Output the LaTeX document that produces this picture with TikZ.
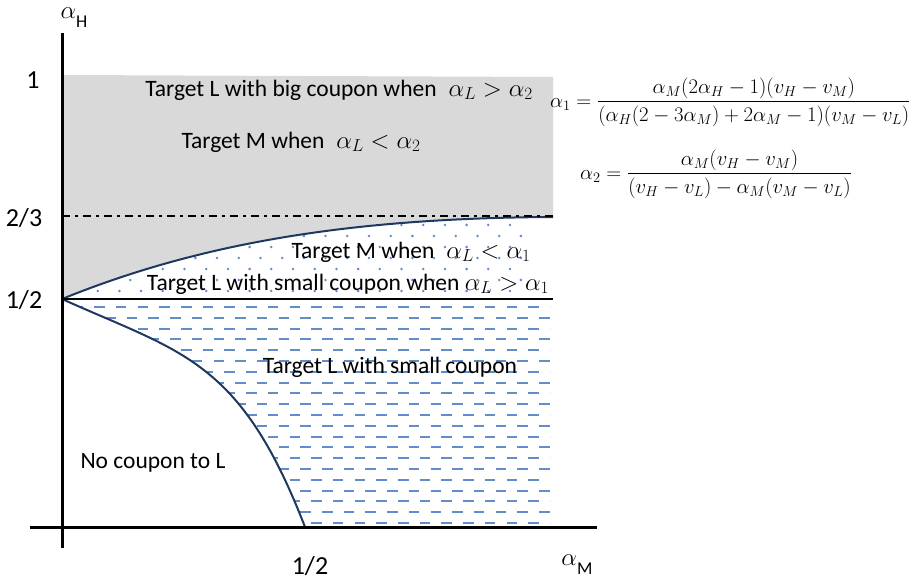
\documentclass[tikz,border=0pt]{standalone}
\usepackage{amsmath}
\usepackage{fontspec}
\setmainfont{Carlito}
\usetikzlibrary{calc}

\definecolor{regiongray}{RGB}{217,217,217}
\definecolor{patblue}{RGB}{99,141,201}
\definecolor{edgeblue}{RGB}{31,56,96}

\begin{document}
\begin{tikzpicture}[
    x=1pt, y=-1pt,
    every node/.style={inner sep=0pt},
    regionlabel/.style={font=\fontsize{23.5}{27}\selectfont},
    ticklabel/.style={font=\fontsize{26}{30}\selectfont},
    formula/.style={font=\fontsize{21}{25}\selectfont, anchor=west},
    axisline/.style={line width=3pt},
    boundary/.style={line width=2pt, draw=edgeblue},
    dashmark/.style={draw=patblue, line width=2pt},
    dotmark/.style={fill=patblue}
]
\useasboundingbox (0,0) rectangle (924,586);

% key points
\coordinate (half) at (62,299);
\coordinate (twothird) at (62,216);
\coordinate (mhalf) at (305,527);
\coordinate (cornerR) at (553,217);

% ============ GRAY REGION ============
\fill[regiongray] (62,75) -- (553,77) -- (cornerR) .. controls (350,218) and (200,243) .. (half) -- cycle;

% ============ DOTTED REGION ============
\begin{scope}
  \clip (0,0) rectangle (550,600);
  \clip (half) .. controls (200,243) and (350,218) .. (cornerR) -- (553,299) -- cycle;
  \foreach \r in {0,...,6}{
    \foreach \c in {0,...,23}{
      \fill[dotmark] ({510-21.7*\c+10.85*mod(\r,2)},{225+11*\r}) circle (1.4);
    }
  }
\end{scope}

% ============ DASHED REGION ============
\begin{scope}
  \clip (0,0) rectangle (550,600);
  \clip (half) .. controls (182,353) and (240,359) .. (mhalf) -- (553,527) -- (553,299) -- cycle;
  \foreach \r in {0,...,20}{
    \foreach \c in {-17,...,7}{
      \draw[dashmark] ({398+21.7*\c+10.85*mod(\r,2)},{307+10.8*\r}) -- ++(10.5,0);
    }
  }
\end{scope}

% ============ BOUNDARIES ============
\draw[boundary] (half) .. controls (200,243) and (350,218) .. (cornerR);
\draw[boundary] (half) .. controls (182,353) and (240,359) .. (mhalf);
\draw[line width=1.2pt] (half) -- (553,299);
\draw[line width=2pt, dash pattern=on 8pt off 5pt on 3pt off 5pt] (twothird) -- (553,216);

% ============ AXES ============
\draw[axisline] (62,33) -- (62,548);
\draw[axisline] (30,527) -- (597,527);

\node (ah) at (74,18) {\fontsize{34}{34}\selectfont$\alpha$\fontsize{18}{18}\selectfont\raisebox{-9pt}{H}};
\node (am) at (577,565) {\fontsize{34}{34}\selectfont$\alpha$\fontsize{18}{18}\selectfont\raisebox{-9pt}{M}};

\node[ticklabel] (one) at (33,80) {1};
\node[ticklabel] (twothirdlbl) at (24,218) {2/3};
\node[ticklabel] (halflbl) at (24,300) {1/2};
\node[ticklabel] (mhalflbl) at (310,566) {1/2};

% ============ REGION LABELS ============
\node[regionlabel] (bigL) at (339,90) {Target L with big coupon when \;$\alpha_L>\alpha_2$};
\node[regionlabel] (topM) at (301,142) {Target M when \;$\alpha_L<\alpha_2$};
\node[regionlabel] (midM) at (411,252) {Target M when \;$\alpha_L<\alpha_1$};
\node[regionlabel] (smallLwhen) at (348,284) {Target L with small coupon when $\alpha_L>\alpha_1$};
\node[regionlabel] (smallL) at (390,367) {Target L with small coupon};
\node[regionlabel] (noL) at (153,463) {No coupon to L};

% ============ FORMULAS ============
\node[formula] (alphaone) at (550,102) {$\alpha_1=\dfrac{\alpha_M(2\alpha_H-1)(v_H-v_M)}{(\alpha_H(2-3\alpha_M)+2\alpha_M-1)(v_M-v_L)}$};
\node[formula] (alphatwo) at (580,174) {$\alpha_2=\dfrac{\alpha_M(v_H-v_M)}{(v_H-v_L)-\alpha_M(v_M-v_L)}$};

\end{tikzpicture}
\end{document}
